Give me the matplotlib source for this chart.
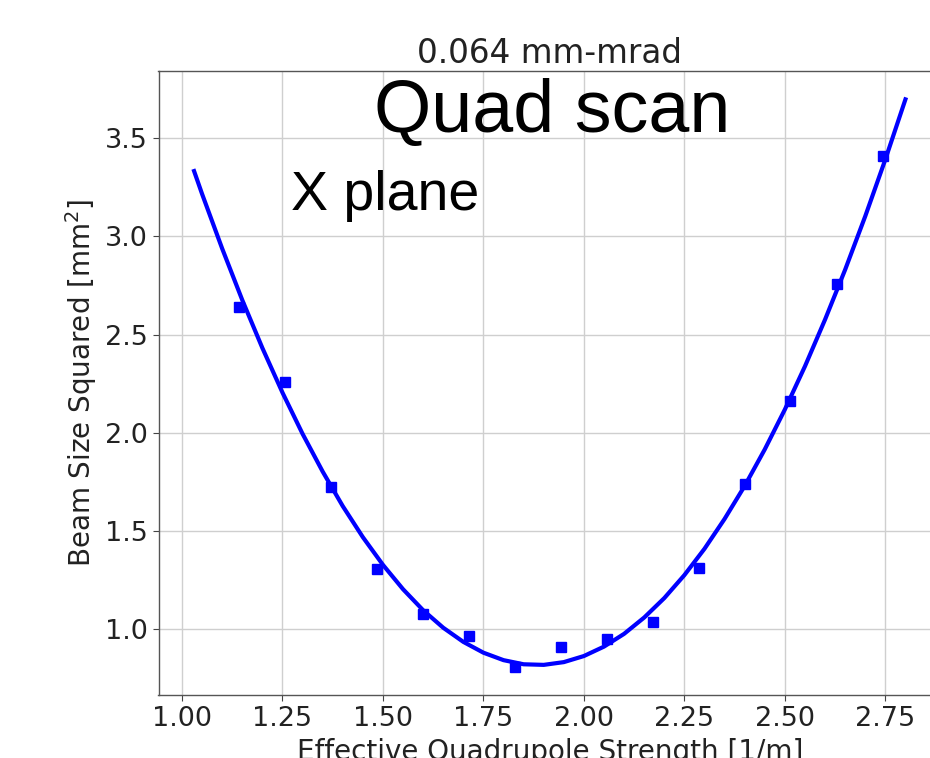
import matplotlib
matplotlib.use("Agg")
import matplotlib.pyplot as plt

# measured points (effective quadrupole strength, beam size squared)
k_meas = [1.143, 1.257, 1.371, 1.486, 1.600, 1.714, 1.829, 1.943,
          2.057, 2.171, 2.286, 2.400, 2.514, 2.629, 2.743]
sig2_meas = [2.643, 2.259, 1.727, 1.305, 1.076, 0.966, 0.810, 0.912,
             0.949, 1.039, 1.314, 1.738, 2.162, 2.757, 3.408]

# fitted curve
k_fit = [1.03, 1.05, 1.10, 1.15, 1.20, 1.25, 1.30, 1.35, 1.40, 1.45,
         1.50, 1.55, 1.60, 1.65, 1.70, 1.75, 1.80, 1.85, 1.90, 1.95,
         2.00, 2.05, 2.10, 2.15, 2.20, 2.25, 2.30, 2.35, 2.40, 2.45,
         2.50, 2.55, 2.60, 2.65, 2.70, 2.75, 2.80]
sig2_fit = [3.333, 3.216, 2.938, 2.676, 2.432, 2.205, 1.995, 1.803, 1.627, 1.469,
            1.328, 1.204, 1.097, 1.008, 0.936, 0.881, 0.843, 0.822, 0.819, 0.833,
            0.864, 0.912, 0.977, 1.060, 1.159, 1.276, 1.410, 1.562, 1.730, 1.916,
            2.119, 2.339, 2.577, 2.831, 3.103, 3.392, 3.698]

x_ticks = [1.00, 1.25, 1.50, 1.75, 2.00, 2.25, 2.50, 2.75]
y_ticks = [1.0, 1.5, 2.0, 2.5, 3.0, 3.5]

W, H = 930, 758
fig = plt.figure(figsize=(W / 100, H / 100), dpi=100)
left, right, bottom, top = 158.5, 941.0, 695.0, 71.0
ax = fig.add_axes([left / W, (H - bottom) / H, (right - left) / W, (bottom - top) / H])

ax.plot(k_fit, sig2_fit, color="#0000ff", lw=3, zorder=3)
ax.plot(k_meas, sig2_meas, "s", color="#0000ff", ms=7, zorder=4)

ax.set_xticks(x_ticks)
ax.set_yticks(y_ticks)
ax.set_xticklabels([f"{v:.2f}" for v in x_ticks])
ax.set_yticklabels([f"{v:.1f}" for v in y_ticks])
ax.tick_params(labelsize=19.5, colors="#444444", labelcolor="#222222", length=4.5)
ax.grid(True, color="#cfcfcf", lw=1.0)
ax.set_axisbelow(True)
for s in ax.spines.values():
    s.set_color("#555555")
    s.set_linewidth(1.0)

ax.set_xlabel("Effective Quadrupole Strength [1/m]", fontsize=20, color="#222222")
ax.set_ylabel("Beam Size Squared [mm$^2$]", fontsize=20, color="#222222")
ax.set_title("0.064 mm-mrad", fontsize=23.5, color="#222222", pad=6)

fig.text(374 / W, (H - 132) / H, "Quad scan", fontsize=53, family="Liberation Sans",
         ha="left", va="baseline", color="black")
fig.text(291 / W, (H - 210) / H, "X plane", fontsize=40, family="Liberation Sans",
         ha="left", va="baseline", color="black")

fig.savefig("out.png", dpi=100)
